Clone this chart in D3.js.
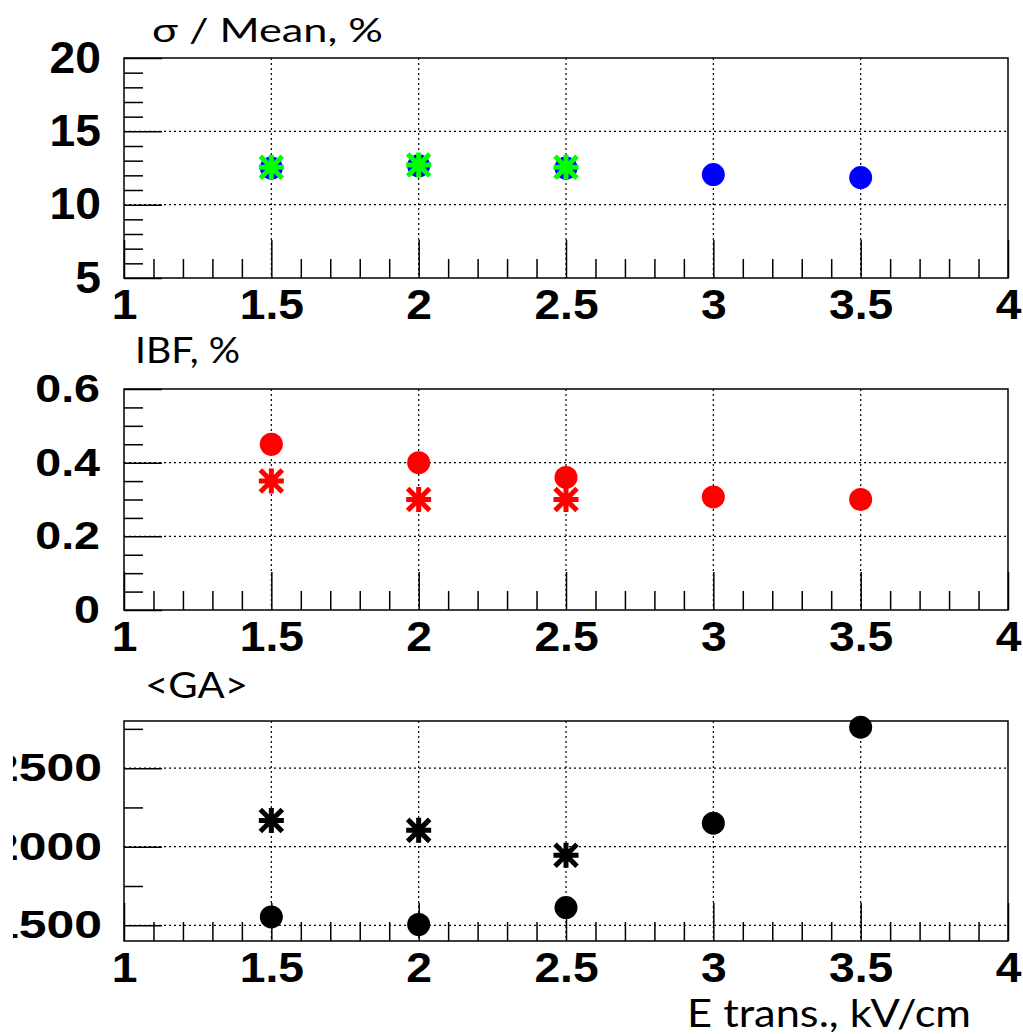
<!DOCTYPE html>
<html>
<head>
<meta charset="utf-8">
<script src="https://cdn.jsdelivr.net/npm/d3@7"></script>
<style>
  body { margin: 0; background: #fff; }
  svg { display: block; }
</style>
</head>
<body>
<div id="chart"></div>
<script>
// E trans. (kV/cm) for each measured point
const eTrans = [1.5, 2, 2.5, 3, 3.5];
const eTransStar = [1.5, 2, 2.5];

// sigma / Mean, %
const sigmaDots = [12.5, 12.65, 12.5, 12.05, 11.85];
const sigmaStars = [12.55, 12.7, 12.55];

// IBF, %
const ibfDots = [0.45, 0.40, 0.36, 0.307, 0.30];
const ibfStars = [0.35, 0.30, 0.30];

// <GA>
const gaDots = [1553, 1505, 1613, 2150, 2761];
const gaStars = [2167, 2104, 1945];

// tick labels
const xTicks = [1, 1.5, 2, 2.5, 3, 3.5, 4];
const xTickLabels = ["1", "1.5", "2", "2.5", "3", "3.5", "4"];
const sigmaTicks = [5, 10, 15, 20];
const sigmaTickLabels = ["5", "10", "15", "20"];
const ibfTicks = [0, 0.2, 0.4, 0.6];
const ibfTickLabels = ["0", "0.2", "0.4", "0.6"];
const gaTicks = [1500, 2000, 2500];
const gaTickLabels = ["1500", "2000", "2500"];

const W = 1023, H = 1034;
const left = 124, right = 1008;

const svg = d3.select("#chart")
  .append("svg")
    .attr("width", W)
    .attr("height", H);

svg.append("rect").attr("width", W).attr("height", H).attr("fill", "#fff");

// the left edge of the picture is cropped a little
svg.append("clipPath").attr("id", "crop")
  .append("rect").attr("x", 13).attr("y", 0).attr("width", W - 13).attr("height", H);

const root = svg.append("g").attr("clip-path", "url(#crop)");

const xScale = d3.scaleLinear().domain([1, 4]).range([left, right]);
const xMinor = d3.range(1, 4.001, 0.1).map(v => +v.toFixed(2)).filter(v => !xTicks.includes(v));

const panels = [
  { top: 58, bottom: 278, domain: [5, 20], ticks: sigmaTicks, labels: sigmaTickLabels,
    minorStep: 1, yFont: 44, ySx: 1.05, yPad: 23,
    dots: sigmaDots, dotColor: "#0000ff", stars: sigmaStars, starColor: "#00ff00" },
  { top: 389, bottom: 610, domain: [0, 0.6], ticks: ibfTicks, labels: ibfTickLabels,
    minorStep: 0.05, yFont: 39.5, ySx: 1.18, yPad: 24,
    dots: ibfDots, dotColor: "#ff0000", stars: ibfStars, starColor: "#ff0000" },
  { top: 721, bottom: 941, domain: [1400, 2800], ticks: gaTicks, labels: gaTickLabels,
    minorStep: 250, yFont: 39, ySx: 1.28, yPad: 22,
    dots: gaDots, dotColor: "#000000", stars: gaStars, starColor: "#000000" }
];

function starPath(a, d) {
  return `M0,${-a}V${a}M${-a},0H${a}M${-d},${-d}L${d},${d}M${-d},${d}L${d},${-d}`;
}

panels.forEach(p => {
  const yScale = d3.scaleLinear().domain(p.domain).range([p.bottom, p.top]);
  const step = p.minorStep;
  const yMinor = d3.range(Math.ceil(p.domain[0] / step - 1e-6) * step, p.domain[1] + step / 100, step)
    .map(v => +v.toFixed(3))
    .filter(v => v <= p.domain[1] + 1e-9)
    .filter(v => !p.ticks.some(t => Math.abs(t - v) < 1e-6));

  const g = root.append("g");

  // dotted grid
  g.append("g").selectAll("line")
    .data(xTicks.slice(1, -1))
    .join("line")
      .attr("x1", d => xScale(d)).attr("x2", d => xScale(d))
      .attr("y1", p.top).attr("y2", p.bottom)
      .attr("stroke", "#000").attr("stroke-width", 1.2)
      .attr("stroke-dasharray", "2,3");
  g.append("g").selectAll("line")
    .data(p.ticks.filter(t => t > p.domain[0] && t < p.domain[1]))
    .join("line")
      .attr("x1", left).attr("x2", right)
      .attr("y1", d => yScale(d)).attr("y2", d => yScale(d))
      .attr("stroke", "#000").attr("stroke-width", 1.2)
      .attr("stroke-dasharray", "2,3");

  // frame
  g.append("rect")
    .attr("x", left).attr("y", p.top)
    .attr("width", right - left).attr("height", p.bottom - p.top)
    .attr("fill", "none").attr("stroke", "#000").attr("stroke-width", 1.5);

  // x axis: major ticks with labels, minor ticks
  const xAxis = g.append("g")
    .attr("transform", `translate(0,${p.bottom})`)
    .call(d3.axisBottom(xScale).tickValues(xTicks)
      .tickFormat((d, i) => xTickLabels[i]).tickSize(-38).tickPadding(11));
  xAxis.append("g")
    .call(d3.axisBottom(xScale).tickValues(xMinor).tickFormat("").tickSize(-19));

  xAxis.selectAll("text")
    .attr("font-family", "'Liberation Sans', Arial, sans-serif")
    .attr("font-weight", "bold")
    .attr("font-size", 42)
    .attr("fill", "#000")
    .attr("transform", "scale(1.1,1)");

  // y axis
  const yAxis = g.append("g")
    .attr("transform", `translate(${left},0)`)
    .call(d3.axisLeft(yScale).tickValues(p.ticks)
      .tickFormat((d, i) => p.labels[i]).tickSize(-38).tickPadding(p.yPad));
  yAxis.append("g")
    .call(d3.axisLeft(yScale).tickValues(yMinor).tickFormat("").tickSize(-19));

  yAxis.selectAll("text")
    .attr("font-family", "'Liberation Sans', Arial, sans-serif")
    .attr("font-weight", "bold")
    .attr("font-size", p.yFont)
    .attr("fill", "#000")
    .attr("x", -p.yPad / p.ySx)
    .attr("transform", `scale(${p.ySx},1)`);

  g.selectAll(".domain").remove();
  g.selectAll(".tick line").attr("stroke", "#000").attr("stroke-width", 1.5);

  // markers: full circles, then asterisks on top
  g.append("g").selectAll("circle")
    .data(p.dots)
    .join("circle")
      .attr("cx", (d, i) => xScale(eTrans[i]))
      .attr("cy", d => yScale(d))
      .attr("r", 11.5)
      .attr("fill", p.dotColor);

  g.append("g").selectAll("path")
    .data(p.stars)
    .join("path")
      .attr("transform", (d, i) => `translate(${xScale(eTransStar[i])},${yScale(d)})`)
      .attr("d", starPath(12.5, 11))
      .attr("fill", "none")
      .attr("stroke", p.starColor)
      .attr("stroke-width", 5);
});

// titles
const titleFont = "Lato, 'Open Sans', sans-serif";
const titles = [
  { text: "σ / Mean, %", x: 152, y: 42, size: 32.5, len: 231 },
  { text: "IBF, %", x: 135, y: 363, size: 37, len: 105 },
  { text: "<GA>", x: 145, y: 698, size: 36, len: 103 },
  { text: "E trans., kV/cm", x: 687, y: 1027, size: 39.5, len: 284 }
];

root.selectAll("text.title")
  .data(titles)
  .join("text")
    .attr("class", "title")
    .attr("x", d => d.x)
    .attr("y", d => d.y)
    .attr("font-family", titleFont)
    .attr("font-size", d => d.size)
    .attr("textLength", d => d.len)
    .attr("lengthAdjust", "spacingAndGlyphs")
    .attr("fill", "#000")
    .text(d => d.text);
</script>
</body>
</html>
